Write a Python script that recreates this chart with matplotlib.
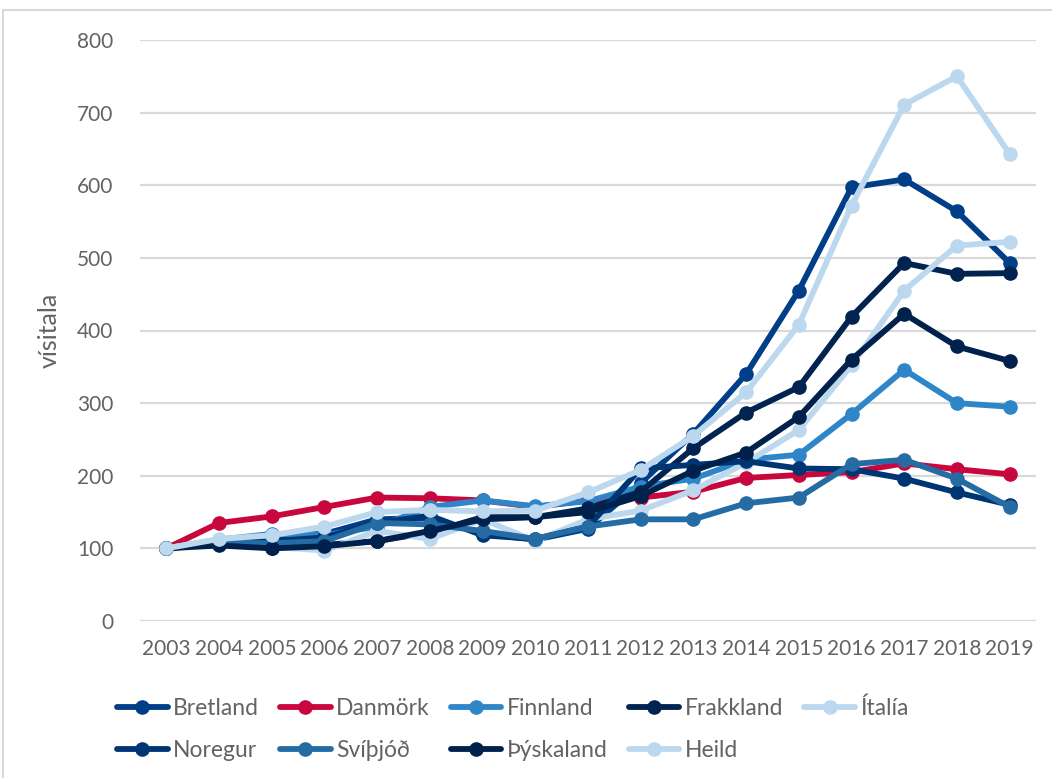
import matplotlib
matplotlib.use("Agg")
import matplotlib.pyplot as plt
from matplotlib.patches import Rectangle

years = [str(y) for y in range(2003, 2020)]

bretland   = [100, 110, 117, 120, 140, 142, 120, 112, 127, 190, 258, 340, 455, 597, 608, 564, 493]
danmork    = [100, 135, 144, 157, 170, 169, 166, 157, 166, 170, 178, 197, 201, 205, 217, 209, 202]
finnland   = [100, 112, 120, 118, 130, 157, 166, 158, 165, 185, 196, 222, 229, 285, 346, 300, 295]
frakkland  = [100, 106, 101, 105, 110, 122, 143, 143, 155, 178, 238, 287, 322, 419, 493, 478, 479]
italia     = [100, 112, 102, 97, 124, 113, 140, 110, 140, 152, 180, 218, 263, 352, 455, 517, 522]
noregur    = [100, 107, 110, 115, 135, 145, 118, 113, 130, 210, 215, 220, 210, 209, 196, 177, 160]
svithjod   = [100, 108, 107, 110, 135, 133, 124, 113, 130, 140, 140, 162, 170, 216, 222, 196, 157]
thyskaland = [100, 104, 100, 103, 110, 124, 140, 143, 150, 172, 207, 232, 281, 360, 423, 378, 358]
heild      = [100, 113, 118, 130, 150, 153, 151, 152, 177, 208, 255, 315, 408, 572, 711, 750, 643]

series = [
    ("Bretland", bretland, "#003F87"),
    ("Danmörk", danmork, "#C8073D"),
    ("Finnland", finnland, "#2E86C8"),
    ("Frakkland", frakkland, "#00234F"),
    ("Ítalía", italia, "#BCD8EF"),
    ("Noregur", noregur, "#003574"),
    ("Svíþjóð", svithjod, "#246CA3"),
    ("Þýskaland", thyskaland, "#00214B"),
    ("Heild", heild, "#BCD8EF"),
]

yticks = [0, 100, 200, 300, 400, 500, 600, 700, 800]

FONT = ["Lato", "DejaVu Sans"]
plt.rcParams["font.family"] = FONT
GREY = "#636363"

fig = plt.figure(figsize=(10.52, 7.78), dpi=100)
fig.patch.set_facecolor("white")
fig.patches.append(Rectangle((3 / 1052, -0.01), 1.0, 1 - 10 / 778 + 0.01,
                             transform=fig.transFigure, fill=False,
                             edgecolor="#D9D9D9", linewidth=1.5))

ax = fig.add_axes([140 / 1052, 157 / 778, 896 / 1052, 581 / 778])
x = list(range(len(years)))
handles = {}
for name, vals, col in series:
    ln, = ax.plot(x, vals, color=col, linewidth=4.2, marker="o", markersize=9.5,
                  label=name, solid_joinstyle="round", solid_capstyle="round")
    handles[name] = ln

ax.set_xlim(-0.5, len(years) - 0.5)
ax.set_ylim(0, 800)
ax.set_yticks(yticks)
ax.set_xticks(x)
ax.set_xticklabels(years)
ax.grid(axis="y", color="#D9D9D9", linewidth=1.6)
ax.set_axisbelow(True)
for s in ax.spines.values():
    s.set_visible(False)
ax.tick_params(axis="both", length=0, labelsize=15, labelcolor=GREY)
ax.tick_params(axis="y", pad=19)
ax.tick_params(axis="x", pad=13)
ax.set_ylabel("vísitala", fontsize=18, color=GREY, labelpad=12)

# matplotlib fills legend column by column; order so rows read as in the reference
order = ["Bretland", "Noregur", "Danmörk", "Svíþjóð", "Finnland", "Þýskaland",
         "Frakkland", "Heild", "Ítalía"]
leg = fig.legend([handles[n] for n in order], order,
                 loc="upper left", bbox_to_anchor=(108 / 1052, 1 - 688 / 778, 810 / 1052, 0.0),
                 ncol=5, mode="expand", frameon=False, fontsize=16.5,
                 handlelength=2.2, handletextpad=0.25, columnspacing=1.0,
                 labelspacing=0.95, borderaxespad=0)
for t in leg.get_texts():
    t.set_color(GREY)

fig.savefig("out.png", dpi=100, facecolor="white")
